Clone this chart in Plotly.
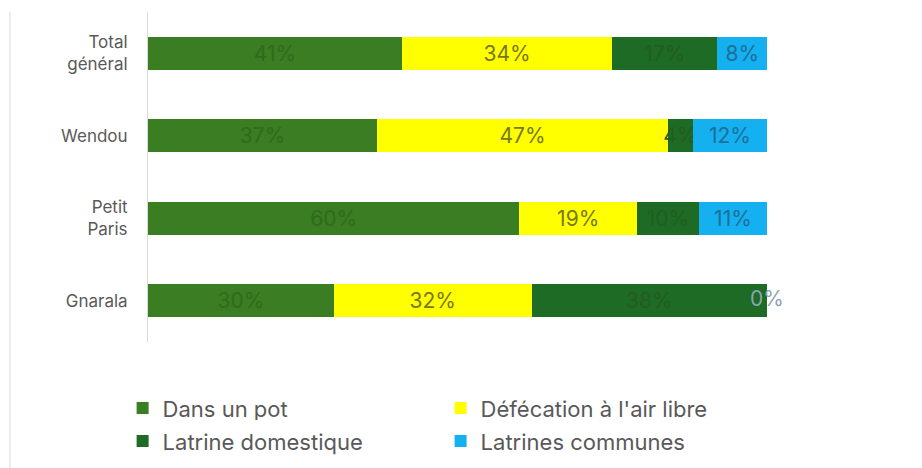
import plotly.graph_objects as go

# Sanitation practices by locality (percent of households)
categories = ["Total<br>général", "Wendou", "Petit<br>Paris", "Gnarala"]
dans_un_pot = [41, 37, 60, 30]
defecation_air_libre = [34, 47, 19, 32]
latrine_domestique = [17, 4, 10, 38]
latrines_communes = [8, 12, 11, 0]

series = [
    ("Dans un pot", dans_un_pot, "#3a7d22", "#306b1c", "legend"),
    ("Défécation à l'air libre", defecation_air_libre, "#ffff00", "#77771a", "legend"),
    ("Latrine domestique", latrine_domestique, "#1d6b24", "#235c22", "legend2"),
    ("Latrines communes", latrines_communes, "#14b0ef", "#1c6f9a", "legend2"),
]

FONT = "Inter, Arial, sans-serif"
BAR_TEXT = 21

fig = go.Figure()
running = [0] * len(categories)
for name, vals, color, txtcolor, leg in series:
    fig.add_trace(go.Bar(
        name=name,
        legend=leg,
        y=categories,
        x=vals,
        orientation="h",
        marker=dict(color=color, line=dict(width=0)),
        text=[f"{v}%" if v > 0 else "" for v in vals],
        textposition="inside",
        textangle=0,
        insidetextanchor="middle",
        textfont=dict(size=BAR_TEXT, color=txtcolor, family=FONT),
        constraintext="none",
        cliponaxis=False,
    ))
    # zero-width segments still get their label, centred at the stack end
    zero_y = [c for c, v in zip(categories, vals) if v == 0]
    zero_x = [r for r, v in zip(running, vals) if v == 0]
    if zero_y:
        fig.add_trace(go.Scatter(
            x=zero_x, y=zero_y, mode="text",
            text=["0%"] * len(zero_y),
            textposition="middle center",
            textfont=dict(size=BAR_TEXT, color="#8aa3b3", family=FONT),
            showlegend=False, hoverinfo="skip", cliponaxis=False,
        ))
    running = [r + v for r, v in zip(running, vals)]

legend_common = dict(
    orientation="h",
    x=-0.041,
    xanchor="left",
    yanchor="top",
    entrywidth=273,
    entrywidthmode="pixels",
    font=dict(size=22, color="#595959", family=FONT),
    traceorder="normal",
)

fig.update_layout(
    width=922,
    height=468,
    barmode="stack",
    bargap=0.6,
    plot_bgcolor="white",
    paper_bgcolor="white",
    margin=dict(l=148, r=155, t=12, b=126, autoexpand=False),
    font=dict(family=FONT, size=17, color="#595959"),
    uniformtext=dict(minsize=BAR_TEXT, mode="show"),
    xaxis=dict(range=[0, 100], visible=False, fixedrange=True),
    yaxis=dict(
        autorange="reversed",
        showline=True,
        linecolor="#d9d9d9",
        linewidth=1,
        showgrid=False,
        ticks="",
        ticklabelstandoff=16,
        tickfont=dict(size=17, color="#595959"),
    ),
    legend=dict(legend_common, y=-0.137),
    legend2=dict(legend_common, y=-0.237),
    showlegend=True,
    shapes=[dict(
        type="line", xref="paper", yref="paper",
        x0=-0.223, x1=-0.223, y0=-0.4, y1=1.0,
        line=dict(color="#d9d9d9", width=1),
    )],
)

fig.write_html("out.html")
